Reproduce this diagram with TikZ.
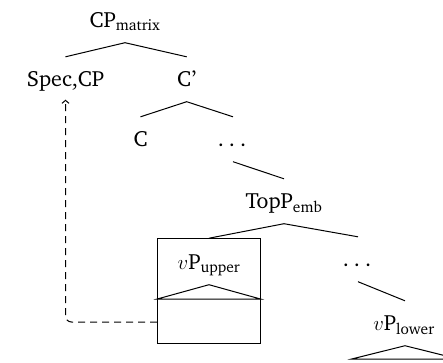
\documentclass[tikz,border=0pt]{standalone}
\usepackage[T1]{fontenc}
\usepackage{charter}
\usetikzlibrary{arrows.meta}
\begin{document}
\begin{tikzpicture}[x=1pt,y=-1pt,
  lbl/.style={anchor=base,inner sep=0pt,text height=29pt,text depth=15.5pt,font=\fontsize{22}{26}\selectfont},
  edge/.style={line width=1pt},
  move/.style={line width=1pt,dash pattern=on 7pt off 5pt,rounded corners=6pt,-{Straight Barb[length=3pt,width=7pt]}}]
\useasboundingbox (0,0) rectangle (443,362);
\clip (0,0) rectangle (443,362);
\node[lbl] (cp)   at (125,27)  {CP\textsubscript{matrix}};
\node[lbl] (spec) at (65.5,86) {Spec,CP};
\node[lbl] (cbar) at (186.7,86) {C'};
\node[lbl] (c)    at (140.5,146) {C};
\node[lbl] (dots1) at (232,146) {.\kern5pt.\kern5pt.};
\node[lbl] (top)  at (284,208) {TopP\textsubscript{emb}};
\node[lbl] (vpu)  at (209,269) {$v$P\textsubscript{upper}};
\node[lbl] (dots2) at (357,266) {.\kern5pt.\kern5pt.};
\node[lbl] (vpl)  at (404,330) {$v$P\textsubscript{lower}};
\node[draw,line width=1pt,inner sep=0pt,minimum width=102.3pt,minimum height=104.6pt] (box) at (208.85,291) {};
\coordinate (l1) at (351.7,359);
\coordinate (r1) at (458.3,359);
\draw[edge] (spec.north) -- (cp.south) -- (cbar.north);
\draw[edge] (c.north) -- (cbar.south) -- ([xshift=1pt]dots1.north);
\draw[edge] ([xshift=1pt]dots1.south) -- (top.north);
\draw[edge] (box.north -| vpu.north) -- (top.south) -- ([xshift=1pt]dots2.north);
\draw[edge] (box.west |- 0,299) -- (vpu.south) -- (box.east |- 0,299) -- cycle;
\draw[edge] ([xshift=1pt]dots2.south) -- ([xshift=1pt]vpl.north);
\draw[edge] (l1) -- ([xshift=1pt]vpl.south) -- (r1) -- cycle;
\draw[move] (box.west |- 0,322) -| ([yshift=2pt]spec.south);
\end{tikzpicture}
\end{document}
